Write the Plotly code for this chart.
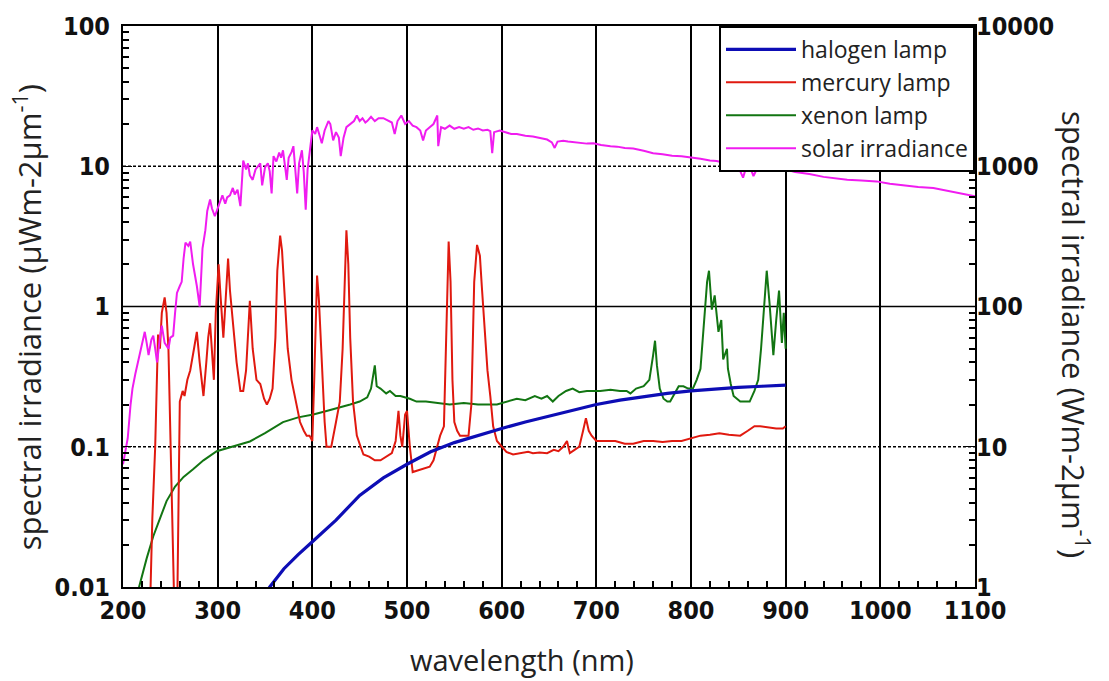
import plotly.graph_objects as go

# ---------------- data ----------------
solar_wl = [200,203,205,208,210,213,215,219,223,225,227,230,232,234,236,239,241,244,248,250,253,255,257,260,262,264,266,269,271,274,276,278,281,283,284,287,289,292,294,297,299,302,305,308,310,313,316,318,321,324,326,327,330,332,334,337,340,343,345,347,350,353,355,357,359,362,365,367,369,371,373,375,378,380,382,384,386,389,391,393,395,398,400,403,405,408,410,413,417,419,422,425,428,430,433,436,440,444,447,450,453,456,458,462,466,470,475,480,484,487,490,494,498,502,506,510,514,517,520,524,528,532,533,536,540,545,550,555,560,565,570,575,580,585,588,590,592,598,605,610,616,625,633,640,648,653,656,659,665,670,680,690,697,705,715,722,730,739,750,760,770,780,790,800,810,820,827,835,845,850,855,858,863,866,869,875,885,897,910,925,940,950,965,980,996,1010,1025,1040,1056,1070,1085,1100]
solar_val = [0.075,0.095,0.115,0.2,0.26,0.33,0.38,0.5,0.66,0.55,0.45,0.58,0.62,0.5,0.4,0.6,0.73,0.55,0.5,0.6,0.62,0.9,1.25,1.4,1.5,2.2,2.85,2.7,2.9,2.0,1.7,1.4,1.0,1.8,2.6,3.5,4.8,5.8,5.0,4.4,4.8,5.5,6.2,5.4,6.0,6.2,7.0,6.3,6.8,5.2,8.5,11,9.5,10.5,8.6,8,9.5,10.2,10.5,7.3,9.8,10.5,9.2,6.4,11.8,10.8,12.5,11.5,13,10.2,8,11.5,12.6,13.9,10,6.4,10.5,13,9,4.9,9.5,13.9,18,17,19,16.3,14.6,18,21,20,15.3,17.5,16,11.8,16,19,20,21,23,21,22,20.5,21,22.5,21,22,22,21,20.5,17,21,23,20,21,19.5,19,18,15.3,18,19,20,23,13.9,19,18.5,19.5,18.5,19,18.5,19,18.2,18.6,18,18.2,17.8,12.4,17.5,18,17.4,17,17,16.5,16.3,16,15.5,14.8,13.5,15,15.2,15,14.7,14.5,14.6,14.2,13.9,13.8,13.5,13.4,12.9,12.4,12.2,11.9,11.8,11.6,11.3,11.0,10.9,10.6,10.2,9.9,8.3,9.7,9.6,8.5,9.4,9.7,9.6,9.6,9.1,8.8,8.4,8.2,8.0,7.9,7.8,7.5,7.3,7.1,7.0,6.7,6.4,6.1]

mercury_wl = [228,231,234,237,239,241,244,246,248,250,252,254,257,259,260,263,265,268,271,275,278,281,283,285,288,290,292,294,296,298,301,303,305,306,308,311,313,316,320,324,327,330,334,337,341,345,349,352,355,358,361,363,366,368,371,374,378,382,387,391,394,397,400,402,405,407,410,413,415,420,425,429,432,434,436,438,440,443,447,451,454,460,466,472,478,484,488,491,493,495,498,500,503,506,512,518,524,528,532,535,539,542,544,546,548,550,553,556,560,565,568,571,574,577,579,582,585,588,591,595,600,605,612,620,628,633,640,648,655,660,665,669,672,677,682,686,689,692,695,700,710,720,730,739,750,760,770,780,790,800,810,820,830,840,852,860,867,873,880,890,897,900]
mercury_val = [0.005,0.031,0.1,0.63,0.5,0.9,1.16,0.9,0.5,0.1,0.03,0.008,0.005,0.05,0.21,0.25,0.23,0.3,0.35,0.5,0.66,0.4,0.3,0.23,0.4,0.6,0.76,0.5,0.3,0.9,2.0,1.2,0.8,0.6,1.0,2.2,1.3,0.8,0.4,0.25,0.25,0.35,1.1,0.5,0.3,0.28,0.22,0.2,0.22,0.26,0.6,1.8,3.2,2.5,1.0,0.5,0.3,0.22,0.15,0.13,0.12,0.12,0.11,0.3,1.66,1.1,0.36,0.15,0.1,0.1,0.15,0.21,0.5,1.5,3.5,2.0,0.6,0.21,0.12,0.1,0.088,0.085,0.08,0.08,0.085,0.09,0.11,0.18,0.12,0.1,0.17,0.18,0.1,0.066,0.068,0.07,0.072,0.08,0.1,0.12,0.14,0.8,2.9,1.5,0.3,0.15,0.13,0.12,0.12,0.12,0.2,1.5,2.75,2.3,1.4,0.7,0.35,0.23,0.14,0.11,0.1,0.092,0.088,0.09,0.092,0.09,0.091,0.09,0.095,0.093,0.1,0.11,0.09,0.095,0.1,0.13,0.16,0.13,0.12,0.11,0.11,0.11,0.105,0.105,0.11,0.11,0.108,0.11,0.11,0.115,0.12,0.122,0.125,0.122,0.12,0.13,0.14,0.14,0.138,0.135,0.135,0.14]

xenon_wl = [210,217,225,232,240,246,255,264,274,285,299,315,334,350,369,385,401,415,429,440,450,458,462,466,468,472,478,482,488,493,503,510,520,530,545,560,575,595,605,616,625,635,642,648,654,660,668,675,682,690,704,715,725,732,736,742,750,756,760,762,764,767,771,775,778,783,787,792,797,802,806,810,814,817,819,822,825,829,832,834,838,839,842,845,852,858,862,867,871,874,876,878,880,883,887,890,893,896,898,900]
xenon_val = [0.005,0.01,0.016,0.023,0.032,0.041,0.052,0.061,0.069,0.08,0.093,0.1,0.109,0.125,0.15,0.162,0.17,0.18,0.19,0.2,0.21,0.225,0.26,0.38,0.27,0.26,0.24,0.25,0.23,0.23,0.22,0.21,0.21,0.205,0.2,0.205,0.2,0.2,0.21,0.22,0.215,0.23,0.22,0.23,0.21,0.23,0.25,0.26,0.245,0.25,0.25,0.255,0.25,0.25,0.24,0.26,0.27,0.3,0.45,0.57,0.38,0.26,0.22,0.21,0.21,0.24,0.27,0.27,0.26,0.26,0.3,0.36,0.8,1.5,1.8,0.95,1.2,0.66,0.8,0.42,0.5,0.36,0.28,0.23,0.21,0.21,0.21,0.25,0.3,0.5,0.8,1.3,1.8,1.05,0.45,0.8,1.3,0.55,0.9,0.5]

halogen_wl = [340,355,370,385,400,425,450,475,500,525,550,575,600,625,650,675,700,725,750,775,800,825,850,875,900]
halogen_val = [0.007,0.01,0.0135,0.017,0.021,0.03,0.045,0.06,0.075,0.092,0.107,0.121,0.135,0.15,0.165,0.183,0.2,0.215,0.228,0.24,0.25,0.258,0.265,0.27,0.275]

x_ticks = [200, 300, 400, 500, 600, 700, 800, 900, 1000, 1100]
x_minor = [v for v in range(200, 1101, 20) if v % 100 != 0]
y_left_vals = [0.01, 0.1, 1, 10, 100]
y_left_text = ["0.01", "0.1", "1", "10", "100"]
y_right_vals = [1, 10, 100, 1000, 10000]
y_right_text = ["1", "10", "100", "1000", "10000"]
grid_dashed = [10, 0.1]
grid_solid = [1]
y_left_minor = [m * 10.0 ** e for e in range(-2, 2) for m in range(2, 10)]

# ---------------- figure ----------------
TICKFONT = dict(family="DejaVu Sans Condensed, DejaVu Sans, sans-serif", size=25, color="#111", weight="bold")
TITLEFONT = dict(family="Open Sans, Noto Sans, sans-serif", size=29, color="#222")
YTITLEFONT = dict(family="Open Sans, Noto Sans, sans-serif", size=31, color="#222")

fig = go.Figure()
fig.add_trace(go.Scatter(x=xenon_wl, y=xenon_val, mode="lines", name="xenon lamp",
                         line=dict(color="#127512", width=2), legendrank=3))
fig.add_trace(go.Scatter(x=mercury_wl, y=mercury_val, mode="lines", name="mercury lamp",
                         line=dict(color="#e0190f", width=2), legendrank=2))
fig.add_trace(go.Scatter(x=solar_wl, y=solar_val, mode="lines", name="solar irradiance",
                         line=dict(color="#f01cf0", width=2), legendrank=4))
fig.add_trace(go.Scatter(x=halogen_wl, y=halogen_val, mode="lines", name="halogen lamp",
                         line=dict(color="#0d0db5", width=3.2), legendrank=1))
# empty traces to activate the extra axes (right scale and minor tick axes)
for xa, ya in [("x", "y2"), ("x", "y3"), ("x", "y4"), ("x2", "y")]:
    fig.add_trace(go.Scatter(x=[None], y=[None], xaxis=xa, yaxis=ya,
                             showlegend=False, hoverinfo="skip"))

for v in grid_dashed:
    fig.add_hline(y=v, line=dict(color="black", width=1.4, dash="3px,2px"), layer="below")
for v in grid_solid:
    fig.add_hline(y=v, line=dict(color="black", width=1.4), layer="below")

minor_y = dict(type="log", range=[-2, 2], overlaying="y", tickmode="array", tickvals=y_left_minor,
               ticks="inside", ticklen=6, tickwidth=1.5, tickcolor="black",
               showticklabels=False, showgrid=False, zeroline=False, showline=False)

fig.update_layout(
    width=1109, height=681,
    margin=dict(l=123, r=134, t=22, b=94),
    paper_bgcolor="white", plot_bgcolor="white",
    showlegend=True,
    legend=dict(x=1, y=1, xanchor="right", yanchor="top",
                bgcolor="white", bordercolor="black", borderwidth=2,
                font=dict(family="Open Sans, Noto Sans, sans-serif", size=23, color="#222"),
                tracegroupgap=0, itemwidth=70),
    xaxis=dict(range=[200, 1100], tickvals=x_ticks, ticks="inside", ticklen=9, tickcolor="black",
               showline=True, linecolor="black", linewidth=2, mirror=True,
               showgrid=True, gridcolor="black", gridwidth=1.6,
               tickfont=TICKFONT, zeroline=False),
    xaxis2=dict(range=[200, 1100], overlaying="x", side="bottom", tickmode="array", tickvals=x_minor,
                ticks="inside", ticklen=6, tickwidth=1.5, tickcolor="black",
                showticklabels=False, showgrid=False, zeroline=False, showline=False),
    yaxis=dict(type="log", range=[-2, 2], tickmode="array", tickvals=y_left_vals, ticktext=y_left_text,
               ticks="inside", ticklen=9, tickcolor="black",
               showline=True, linecolor="black", linewidth=2, mirror=True,
               showgrid=False, tickfont=TICKFONT, zeroline=False, ticklabelstandoff=6),
    yaxis2=dict(type="log", range=[0, 4], overlaying="y", side="right",
                tickmode="array", tickvals=y_right_vals, ticktext=y_right_text,
                ticks="inside", ticklen=9, tickcolor="black",
                showgrid=False, zeroline=False, showline=False,
                tickfont=TICKFONT),
    yaxis3=dict(minor_y, side="left"),
    yaxis4=dict(minor_y, side="right"),
    annotations=[
        dict(text="wavelength (nm)", xref="paper", yref="paper", x=0.468, y=-0.129,
             xanchor="center", yanchor="middle", showarrow=False, font=TITLEFONT),
        dict(text="spectral irradiance (µWm-2µm<sup>-1</sup>)", xref="paper", yref="paper",
             x=-0.112, y=0.48, xanchor="center", yanchor="middle", textangle=-90,
             showarrow=False, font=YTITLEFONT),
        dict(text="spectral irradiance (Wm-2µm<sup>-1</sup>)", xref="paper", yref="paper",
             x=1.118, y=0.45, xanchor="center", yanchor="middle", textangle=90,
             showarrow=False, font=YTITLEFONT),
    ],
)

fig.write_html("out.html")
